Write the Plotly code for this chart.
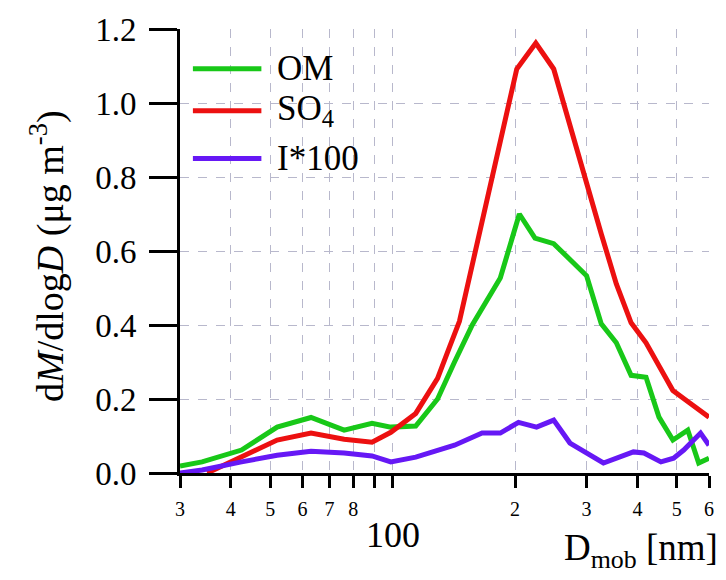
import math
import plotly.graph_objects as go

# ---------------- data ----------------
x_om = [30, 34, 42.5, 52, 63, 76, 89, 99, 114, 129, 142, 157, 184, 205, 224, 249,
        300, 326, 355, 386, 420, 452, 489, 532, 566, 600]
om = [0.019, 0.03, 0.062, 0.124, 0.15, 0.116, 0.134, 0.124, 0.127, 0.20, 0.30, 0.40,
      0.527, 0.70, 0.635, 0.62, 0.533, 0.403, 0.352, 0.264, 0.259, 0.151, 0.089,
      0.116, 0.027, 0.04]

x_so4 = [35, 42.5, 52, 63, 76, 89, 99, 114, 129, 138, 146, 202, 225, 249, 284,
         326, 355, 386, 420, 489, 535, 600]
so4 = [0.0, 0.043, 0.089, 0.108, 0.091, 0.083, 0.11, 0.161, 0.256, 0.34, 0.41,
       1.092, 1.162, 1.092, 0.869, 0.646, 0.511, 0.406, 0.352, 0.223, 0.191, 0.151]

x_i = [30, 34, 42.5, 52, 63, 76, 89, 99, 114, 142, 166, 184, 204, 226, 249, 273,
       330, 391, 415, 457, 491, 520, 572, 600]
i100 = [0.0, 0.008, 0.03, 0.048, 0.059, 0.054, 0.046, 0.03, 0.043, 0.075, 0.108,
        0.108, 0.137, 0.124, 0.143, 0.081, 0.027, 0.057, 0.054, 0.03, 0.04, 0.062,
        0.108, 0.075]

series_names = ["OM", "SO<sub>4</sub>", "I*100"]
series_colors = ["rgb(24,200,24)", "rgb(236,16,16)", "rgb(102,24,245)"]

x_tickvals = [30, 40, 50, 60, 70, 80, 200, 300, 400, 500, 600]
x_ticktext = ["3", "4", "5", "6", "7", "8", "2", "3", "4", "5", "6"]
x_minor_tickvals = [90, 100]
y_tickvals = [0.0, 0.2, 0.4, 0.6, 0.8, 1.0, 1.2]
x_range = [30, 600]
y_range = [0, 1.2]
decade_tick = 100

FONT = "Liberation Serif, Times New Roman, serif"

fig = go.Figure()
for xs, ys, name, col in zip([x_om, x_so4, x_i], [om, so4, i100], series_names, series_colors):
    fig.add_trace(go.Scatter(x=xs, y=ys, mode="lines", name=name,
                             line=dict(color=col, width=5), showlegend=False))

L, R, T, B = 180, 13, 27, 107
W, H = 726, 580
pw, ph = W - L - R, H - T - B

def px_x(p):
    return (p - L) / pw

def px_y(p):
    return (H - B - p) / ph

GRIDCOL = "#b8b8cc"
grid = dict(showgrid=True, gridcolor=GRIDCOL, gridwidth=1, griddash="dash")

fig.update_layout(
    width=W, height=H,
    margin=dict(l=L, r=R, t=T, b=B),
    paper_bgcolor="white", plot_bgcolor="white",
    font=dict(family=FONT, color="black"),
    xaxis=dict(type="log", range=[math.log10(x_range[0]), math.log10(x_range[1])],
               tickvals=x_tickvals, ticktext=x_ticktext,
               ticks="outside", ticklen=12, tickwidth=3, tickcolor="black",
               minor=dict(tickvals=x_minor_tickvals, ticks="outside", ticklen=12,
                          tickwidth=3, tickcolor="black", showgrid=True,
                          gridcolor=GRIDCOL, gridwidth=1, griddash="dash"),
               showline=True, linewidth=3, linecolor="black",
               tickfont=dict(size=20, family=FONT), ticklabelstandoff=4,
               zeroline=False, **grid),
    yaxis=dict(range=y_range, tickvals=y_tickvals, tickformat=".1f",
               ticks="outside", ticklen=28, tickwidth=3, tickcolor="black",
               showline=True, linewidth=3, linecolor="black",
               tickfont=dict(size=33, family=FONT), ticklabelstandoff=6,
               zeroline=False, **grid),
)

# longer tick at 100
fig.add_shape(type="line", xref="x", yref="y", x0=math.log10(decade_tick), x1=math.log10(decade_tick),
              ysizemode="pixel", yanchor=0, y0=0, y1=-27,
              line=dict(color="black", width=3))
fig.add_annotation(x=math.log10(decade_tick), xref="x", y=0, yref="paper", yanchor="middle",
                   yshift=-62, text="100", showarrow=False, font=dict(size=36, family=FONT))

# axis titles
fig.add_annotation(xref="paper", yref="paper", x=px_x(724), y=0, xanchor="right", yanchor="top",
                   yshift=-52, text="D<sub>mob</sub> [nm]", showarrow=False,
                   font=dict(size=37, family=FONT))
fig.add_annotation(xref="paper", yref="paper", x=px_x(47), y=px_y(255), xanchor="center",
                   yanchor="middle", textangle=-90,
                   text="d<i>M</i>/dlog<i>D</i> (μg m<sup>-3</sup>)", showarrow=False,
                   font=dict(size=38, family=FONT))

# legend
fig.add_shape(type="rect", xref="paper", yref="paper", x0=px_x(182), x1=px_x(363),
              y0=px_y(174), y1=px_y(45), fillcolor="white", line=dict(width=0), layer="between")
leg_y = [67, 109, 157]
for name, col, yy in zip(series_names, series_colors, leg_y):
    fig.add_shape(type="line", xref="paper", yref="paper", x0=px_x(193), x1=px_x(262),
                  y0=px_y(yy), y1=px_y(yy), line=dict(color=col, width=5))
    fig.add_annotation(xref="paper", yref="paper", x=px_x(276), y=px_y(yy), xanchor="left",
                       yanchor="middle", text=name, showarrow=False,
                       font=dict(size=35, family=FONT))

fig.write_html(
    "out.html",
    config={"displayModeBar": False},
    post_script=("document.documentElement.style.margin='0px';"
                 "document.documentElement.style.overflow='hidden';"
                 "document.body.style.margin='0px';document.body.style.padding='0px';"
                 "document.body.style.overflow='hidden';"),
)
